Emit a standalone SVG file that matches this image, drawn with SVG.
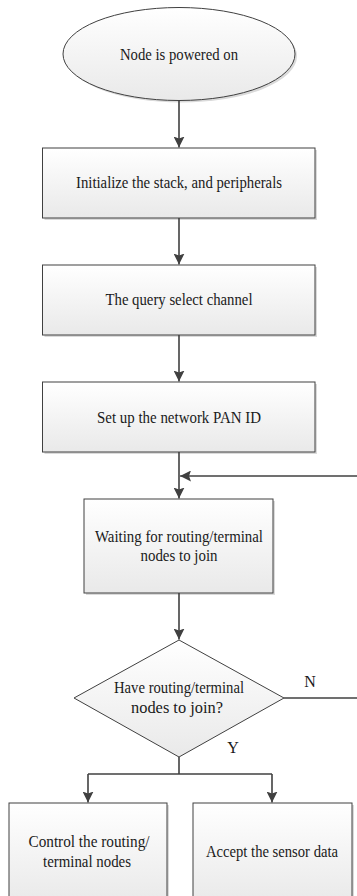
<svg xmlns="http://www.w3.org/2000/svg" width="357" height="896" viewBox="0 0 357 896">
<defs>
<linearGradient id="g" x1="0" y1="0" x2="0" y2="1">
<stop offset="0" stop-color="#ffffff"/>
<stop offset="1" stop-color="#e9e9e9"/>
</linearGradient>
<marker id="ah" markerWidth="10" markerHeight="11" viewBox="0 0 10 11" refX="11" refY="5.5" orient="auto" markerUnits="userSpaceOnUse">
<path d="M0,0 L11,5.5 L0,11 L2,5.5 Z" fill="#404040"/>
</marker>
</defs>
<style>
.s{fill:url(#g);stroke:#404040;stroke-width:1}
.sh{fill:#dadada;stroke:none}
.t{font-family:"Liberation Serif","Times New Roman",serif;font-size:16px;fill:#1a1a1a;text-anchor:middle}
.c{fill:none;stroke:#404040;stroke-width:1.6}
</style>
<g id="n1">
<ellipse cx="181" cy="56" rx="116" ry="46.5" class="sh"/>
<ellipse cx="179" cy="54" rx="116" ry="46.5" class="s"/>
<text x="179" y="60" class="t" textLength="118" lengthAdjust="spacingAndGlyphs">Node is powered on</text>
</g>
<g id="n2">
<rect x="44.5" y="150" width="272.5" height="70" class="sh"/>
<rect x="42.5" y="148" width="272.5" height="70" class="s"/>
<text x="179" y="188" class="t" textLength="206" lengthAdjust="spacingAndGlyphs">Initialize the stack, and peripherals</text>
</g>
<g id="n3">
<rect x="44.5" y="267" width="272.5" height="70" class="sh"/>
<rect x="42.5" y="265" width="272.5" height="70" class="s"/>
<text x="179" y="305" class="t" textLength="147" lengthAdjust="spacingAndGlyphs">The query select channel</text>
</g>
<g id="n4">
<rect x="44.5" y="384" width="272.5" height="70" class="sh"/>
<rect x="42.5" y="382" width="272.5" height="70" class="s"/>
<text x="179" y="423" class="t" textLength="164" lengthAdjust="spacingAndGlyphs">Set up the network PAN ID</text>
</g>
<g id="n5">
<rect x="86" y="501" width="189" height="94" class="sh"/>
<rect x="84" y="499" width="189" height="94" class="s"/>
<text x="179" y="542" class="t" textLength="168" lengthAdjust="spacingAndGlyphs">Waiting for routing/terminal</text>
<text x="179" y="561" class="t" textLength="77" lengthAdjust="spacingAndGlyphs">nodes to join</text>
</g>
<g id="n6">
<polygon points="179,640 284,698 179,757 74,698" class="s"/>
<text x="179" y="693" class="t" textLength="130" lengthAdjust="spacingAndGlyphs">Have routing/terminal</text>
<text x="177" y="713" class="t" textLength="92" lengthAdjust="spacingAndGlyphs">nodes to join?</text>
</g>
<g id="n7">
<rect x="11" y="805" width="158" height="100" class="sh"/>
<rect x="9" y="803" width="158" height="100" class="s"/>
<text x="89" y="847" class="t" textLength="121" lengthAdjust="spacingAndGlyphs">Control the routing/</text>
<text x="87" y="867" class="t" textLength="88" lengthAdjust="spacingAndGlyphs">terminal nodes</text>
</g>
<g id="n8">
<rect x="195" y="805" width="159" height="100" class="sh"/>
<rect x="193" y="803" width="159" height="100" class="s"/>
<text x="272" y="857" class="t" textLength="132" lengthAdjust="spacingAndGlyphs">Accept the sensor data</text>
</g>
<g id="connectors">
<line x1="179" y1="100.5" x2="179" y2="147.5" class="c" marker-end="url(#ah)"/>
<line x1="179" y1="218" x2="179" y2="264.5" class="c" marker-end="url(#ah)"/>
<line x1="179" y1="335" x2="179" y2="381.5" class="c" marker-end="url(#ah)"/>
<line x1="179" y1="452" x2="179" y2="498.5" class="c" marker-end="url(#ah)"/>
<line x1="179" y1="593" x2="179" y2="639.5" class="c" marker-end="url(#ah)"/>
<polyline points="284,698 357,698" class="c"/>
<line x1="357" y1="476" x2="180" y2="476" class="c" marker-end="url(#ah)"/>
<polyline points="179,757 179,774" class="c"/>
<polyline points="88,774 272,774" class="c"/>
<line x1="88" y1="774" x2="88" y2="802.5" class="c" marker-end="url(#ah)"/>
<line x1="272" y1="774" x2="272" y2="802.5" class="c" marker-end="url(#ah)"/>
<text x="310" y="687" class="t">N</text>
<text x="233" y="753" class="t">Y</text>
</g>
</svg>
